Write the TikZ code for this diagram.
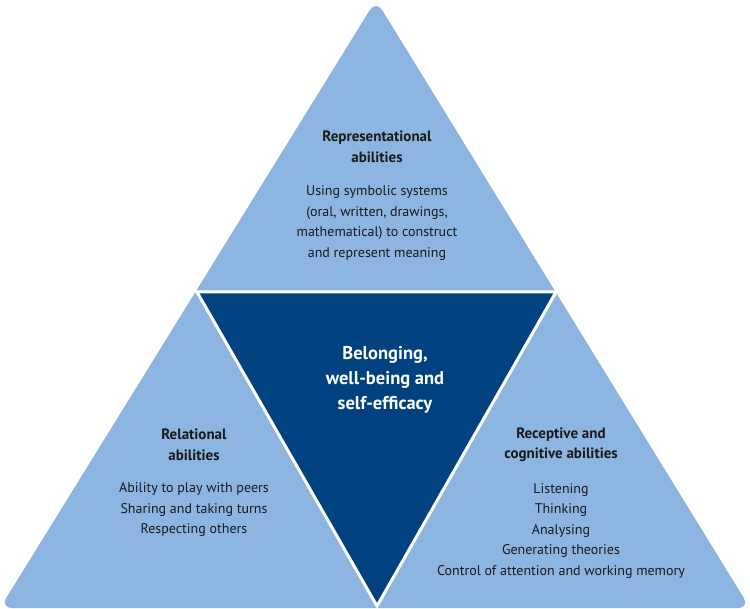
\documentclass[tikz,border=0pt]{standalone}
\usepackage{fontspec}
\setmainfont{PT Sans}
\definecolor{light}{HTML}{8DB5E2}
\definecolor{dark}{HTML}{00427F}
\begin{document}
\begin{tikzpicture}[x=1pt,y=-1pt,
  title/.style={align=center,font=\fontsize{15}{20.5}\selectfont\bfseries,text=black!90},
  body/.style={align=center,font=\fontsize{14}{20.5}\selectfont,text=black!90},
  center/.style={align=center,font=\fontsize{18.5}{25}\selectfont\bfseries,text=white}]
\useasboundingbox (0,0) rectangle (750,609);
\fill[light, rounded corners=12pt] (376,0) -- (750,608) -- (0,608) -- cycle;
\fill[dark, draw=white, line width=3pt, line join=miter] (197,292) -- (556,292) -- (377,606) -- cycle;
\node[title] (t1) at (377,147) {Representational\\abilities};
\node[body] (b1) at (377,223) {Using symbolic systems\\(oral, written, drawings,\\mathematical) to construct\\and represent meaning};
\node[center] (c) at (385,380) {Belonging,\\well-being and\\self-efficacy};
\node[title] (t2) at (194,445) {Relational\\abilities};
\node[body] (b2) at (194,510) {Ability to play with peers\\Sharing and taking turns\\Respecting others};
\node[title] (t3) at (561,445) {Receptive and\\cognitive abilities};
\node[body] (b3) at (561,531) {Listening\\Thinking\\Analysing\\Generating theories\\Control of attention and working memory};
\end{tikzpicture}
\end{document}
